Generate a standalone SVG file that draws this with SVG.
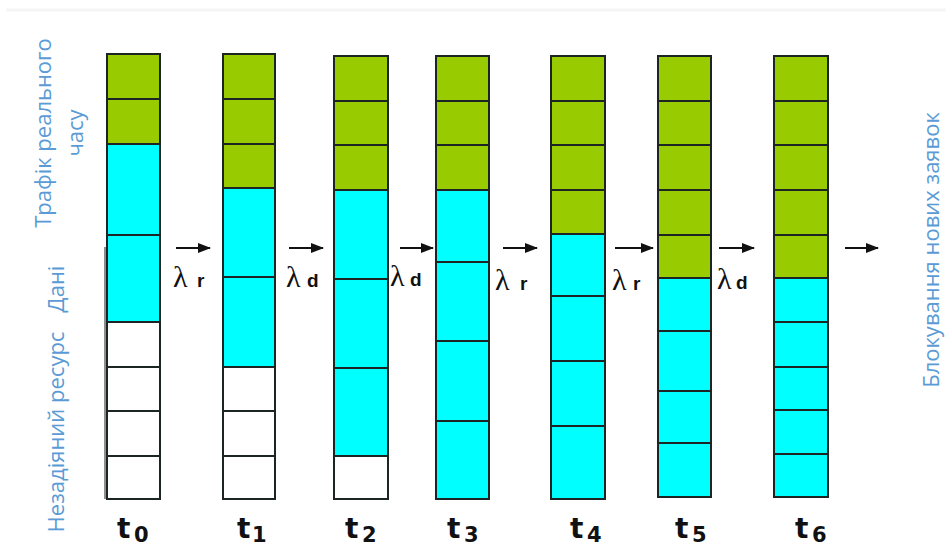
<svg xmlns="http://www.w3.org/2000/svg" width="946" height="549" viewBox="0 0 946 549">
<style>
.g{fill:#99cc00;stroke:#1c2424;stroke-width:2}
.c{fill:#00ffff;stroke:#1c2424;stroke-width:2}
.w{fill:#ffffff;stroke:#1c2424;stroke-width:2}
.lam{font-family:"Liberation Serif","DejaVu Serif",serif;font-size:30px;fill:#111}
.sub{font-family:"Liberation Sans",Arial,sans-serif;font-weight:bold;font-size:19px;fill:#111}
.tt{font-family:"DejaVu Sans","Liberation Sans",sans-serif;font-weight:bold;font-size:28px;fill:#111}
.td{font-family:"DejaVu Sans","Liberation Sans",sans-serif;font-weight:bold;font-size:21px;fill:#111}
.lbl{font-family:"Open Sans","Noto Sans","DejaVu Sans",sans-serif;font-size:22px;fill:#5b9bd5}
.arr{stroke:#111;stroke-width:2;fill:none;marker-end:url(#ah)}
</style>
<defs>
<marker id="ah" markerUnits="userSpaceOnUse" markerWidth="14" markerHeight="10" refX="12" refY="5" orient="auto">
<path d="M0,0 L13,5 L0,10 Z" fill="#111"/>
</marker>
</defs>
<rect width="946" height="549" fill="#ffffff"/>
<line x1="6" y1="10" x2="946" y2="10" stroke="#f5f5f5" stroke-width="3"/>

<g id="t0">
<rect class="g" x="107" y="54" width="53" height="45"/>
<rect class="g" x="107" y="99" width="53" height="45"/>
<rect class="c" x="107" y="144" width="53" height="91"/>
<rect class="c" x="107" y="235" width="53" height="87"/>
<rect class="w" x="107" y="322" width="53" height="45"/>
<rect class="w" x="107" y="367" width="53" height="44"/>
<rect class="w" x="107" y="411" width="53" height="45"/>
<rect class="w" x="107" y="456" width="53" height="43"/>
<line x1="105" y1="247" x2="105" y2="499" stroke="#6a6a6a" stroke-width="1.5"/>
<text x="117" y="538" class="tt">t</text><text x="134" y="542" class="td">0</text>
</g>

<g id="t1">
<rect class="g" x="223" y="54" width="52" height="45"/>
<rect class="g" x="223" y="99" width="52" height="45"/>
<rect class="g" x="223" y="144" width="52" height="44"/>
<rect class="c" x="223" y="188" width="52" height="89"/>
<rect class="c" x="223" y="277" width="52" height="90"/>
<rect class="w" x="223" y="367" width="52" height="44"/>
<rect class="w" x="223" y="411" width="52" height="45"/>
<rect class="w" x="223" y="456" width="52" height="43"/>
<text x="237" y="538" class="tt">t</text><text x="252" y="542" class="td">1</text>
</g>

<g id="t2">
<rect class="g" x="334" y="56" width="54" height="45"/>
<rect class="g" x="334" y="101" width="54" height="44"/>
<rect class="g" x="334" y="145" width="54" height="45"/>
<rect class="c" x="334" y="190" width="54" height="89"/>
<rect class="c" x="334" y="279" width="54" height="89"/>
<rect class="c" x="334" y="368" width="54" height="88"/>
<rect class="w" x="334" y="456" width="54" height="43"/>
<text x="345" y="538" class="tt">t</text><text x="362" y="542" class="td">2</text>
</g>

<g id="t3">
<rect class="g" x="436" y="56" width="53" height="45"/>
<rect class="g" x="436" y="101" width="53" height="44"/>
<rect class="g" x="436" y="145" width="53" height="45"/>
<rect class="c" x="436" y="190" width="53" height="72"/>
<rect class="c" x="436" y="262" width="53" height="79"/>
<rect class="c" x="436" y="341" width="53" height="80"/>
<rect class="c" x="436" y="421" width="53" height="78"/>
<text x="447" y="538" class="tt">t</text><text x="464" y="542" class="td">3</text>
</g>

<g id="t4">
<rect class="g" x="551" y="56" width="54" height="45"/>
<rect class="g" x="551" y="101" width="54" height="44"/>
<rect class="g" x="551" y="145" width="54" height="45"/>
<rect class="g" x="551" y="190" width="54" height="44"/>
<rect class="c" x="551" y="234" width="54" height="62"/>
<rect class="c" x="551" y="296" width="54" height="65"/>
<rect class="c" x="551" y="361" width="54" height="65"/>
<rect class="c" x="551" y="426" width="54" height="73"/>
<text x="570" y="538" class="tt">t</text><text x="587" y="542" class="td">4</text>
</g>

<g id="t5">
<rect class="g" x="658" y="56" width="53" height="45"/>
<rect class="g" x="658" y="101" width="53" height="44"/>
<rect class="g" x="658" y="145" width="53" height="45"/>
<rect class="g" x="658" y="190" width="53" height="45"/>
<rect class="g" x="658" y="235" width="53" height="43"/>
<rect class="c" x="658" y="278" width="53" height="53"/>
<rect class="c" x="658" y="331" width="53" height="60"/>
<rect class="c" x="658" y="391" width="53" height="52"/>
<rect class="c" x="658" y="443" width="53" height="54"/>
<text x="675" y="538" class="tt">t</text><text x="692" y="542" class="td">5</text>
</g>

<g id="t6">
<rect class="g" x="774" y="56" width="54" height="45"/>
<rect class="g" x="774" y="101" width="54" height="44"/>
<rect class="g" x="774" y="145" width="54" height="45"/>
<rect class="g" x="774" y="190" width="54" height="45"/>
<rect class="g" x="774" y="235" width="54" height="43"/>
<rect class="c" x="774" y="278" width="54" height="44"/>
<rect class="c" x="774" y="322" width="54" height="45"/>
<rect class="c" x="774" y="367" width="54" height="43"/>
<rect class="c" x="774" y="410" width="54" height="44"/>
<rect class="c" x="774" y="454" width="54" height="43"/>
<text x="795" y="538" class="tt">t</text><text x="812" y="542" class="td">6</text>
</g>

<g id="connectors">
<line class="arr" x1="176" y1="248" x2="210" y2="248"/>
<line class="arr" x1="289" y1="248" x2="323" y2="248"/>
<line class="arr" x1="400" y1="248" x2="433" y2="248"/>
<line class="arr" x1="503" y1="248" x2="537" y2="248"/>
<line class="arr" x1="615" y1="248" x2="653" y2="248"/>
<line class="arr" x1="719" y1="248" x2="754" y2="248"/>
<line class="arr" x1="845" y1="248" x2="878" y2="248"/>
<text x="173" y="287" class="lam">λ</text><text x="197" y="287" class="sub">r</text>
<text x="286" y="287" class="lam">λ</text><text x="307" y="287" class="sub">d</text>
<text x="390" y="286" class="lam">λ</text><text x="410" y="286" class="sub">d</text>
<text x="495" y="290" class="lam">λ</text><text x="520" y="290" class="sub">r</text>
<text x="612" y="290" class="lam">λ</text><text x="633" y="290" class="sub">r</text>
<text x="717" y="289" class="lam">λ</text><text x="736" y="289" class="sub">d</text>
</g>

<g id="labels">
<text class="lbl" transform="translate(51,133) rotate(-90)" text-anchor="middle">Трафік реального</text>
<text class="lbl" transform="translate(83,133) rotate(-90)" text-anchor="middle">часу</text>
<text class="lbl" transform="translate(64,289) rotate(-90)" text-anchor="middle">Дані</text>
<text class="lbl" transform="translate(64,432) rotate(-90)" text-anchor="middle">Незадіяний ресурс</text>
<text class="lbl" transform="translate(939,250) rotate(-90)" text-anchor="middle">Блокування нових заявок</text>
</g>
</svg>
